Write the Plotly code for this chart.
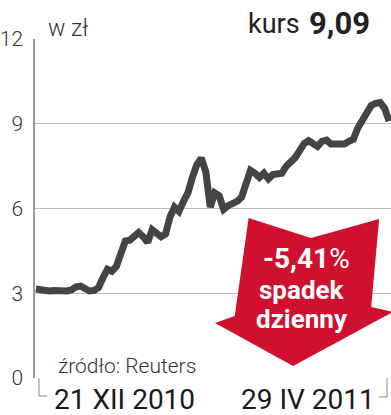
import plotly.graph_objects as go

# ---- data ----
prices = [3.15, 3.12, 3.10, 3.08, 3.10, 3.08, 3.08, 3.08, 3.12, 3.23,
          3.25, 3.13, 3.08, 3.10, 3.20, 3.55, 3.85, 3.78, 3.95, 4.40,
          4.85, 4.88, 5.00, 5.15, 5.00, 4.80, 5.25, 5.10, 5.00, 5.10,
          5.70, 6.05, 5.90, 6.25, 6.55, 7.10, 7.55, 7.78, 7.30, 6.05,
          6.55, 6.45, 5.97, 6.10, 6.15, 6.25, 6.40, 6.85, 7.35, 7.25,
          7.10, 7.25, 7.05, 7.20, 7.25, 7.25, 7.50, 7.62, 7.80, 8.05,
          8.30, 8.40, 8.30, 8.20, 8.38, 8.42, 8.28, 8.28, 8.30, 8.28,
          8.38, 8.45, 8.85, 9.15, 9.40, 9.65, 9.72, 9.75, 9.55, 9.09]
days = list(range(len(prices)))
y_ticks = [0, 3, 6, 9, 12]
start_label = "21 XII 2010"
end_label = "29 IV 2011"
unit_label = "w zł"
kurs_word = "kurs"
kurs_value = "9,09"
change_pct = "-5,41"
change_text = ["spadek", "dzienny"]
source = "źródło: Reuters"

W, H = 391, 415
L, R, T, B = 31, 0, 39, 37
PW, PH = W - L - R, H - T - B


def px(x):
    return (x - L) / PW


def py(y):
    return (H - B - y) / PH


RED = "#d0102f"
FONT = "Roboto"

fig = go.Figure()
fig.add_trace(go.Scatter(
    x=days, y=prices, mode="lines",
    line=dict(color="#444444", width=7),
    hoverinfo="skip", showlegend=False))

# red arrow
pts = [(247, 218), (310, 238), (379, 219), (371, 307), (393, 312),
       (292, 366), (213, 323), (233, 316)]
path = "M " + " L ".join(f"{px(a):.4f},{py(b):.4f}" for a, b in pts) + " Z"

shapes = [dict(type="path", path=path, xref="paper", yref="paper",
               fillcolor=RED, line=dict(width=0), layer="above")]
# bracket ticks at bottom
bc = "#999999"
shapes += [
    dict(type="line", xref="paper", yref="paper", x0=px(35), x1=px(35),
         y0=py(378), y1=py(396), line=dict(color=bc, width=1.2)),
    dict(type="line", xref="paper", yref="paper", x0=px(35), x1=px(43),
         y0=py(396), y1=py(396), line=dict(color=bc, width=1.2)),
    dict(type="line", xref="paper", yref="paper", x0=px(387), x1=px(387),
         y0=py(378), y1=py(397), line=dict(color=bc, width=1.2)),
    dict(type="line", xref="paper", yref="paper", x0=px(379), x1=px(387),
         y0=py(397), y1=py(397), line=dict(color=bc, width=1.2)),
]

annots = [
    dict(text=unit_label, x=px(42), y=py(28), xanchor="left", yanchor="middle",
         font=dict(family=FONT, size=23, color="#333333", weight=300)),
    dict(text=kurs_word, x=px(301), y=py(24), xanchor="right", yanchor="middle",
         font=dict(family=FONT, size=27, color="#222222")),
    dict(text=kurs_value, x=px(306), y=py(23), xanchor="left", yanchor="middle",
         font=dict(family=FONT, size=31, color="#222222", weight=700)),
    dict(text=f"<b>{change_pct}</b>%", x=px(306), y=py(258), xanchor="center",
         yanchor="middle", font=dict(family=FONT, size=28, color="white")),
    dict(text=f"<b>{change_text[0]}</b>", x=px(301), y=py(290), xanchor="center",
         yanchor="middle", font=dict(family=FONT, size=26, color="white")),
    dict(text=f"<b>{change_text[1]}</b>", x=px(301), y=py(319), xanchor="center",
         yanchor="middle", font=dict(family=FONT, size=26, color="white")),
    dict(text=source, x=px(52), y=py(366), xanchor="left", yanchor="middle",
         font=dict(family=FONT, size=21, color="#333333", weight=300)),
    dict(text=start_label, x=px(121), y=py(399), xanchor="center", yanchor="middle",
         font=dict(family=FONT, size=28, color="#1a1a1a")),
    dict(text=end_label, x=px(307), y=py(399), xanchor="center", yanchor="middle",
         font=dict(family=FONT, size=28, color="#1a1a1a")),
]
for a in annots:
    a.update(xref="paper", yref="paper", showarrow=False)

fig.update_layout(
    width=W, height=H,
    margin=dict(l=L, r=R, t=T, b=B, pad=0),
    paper_bgcolor="white", plot_bgcolor="white",
    shapes=shapes, annotations=annots,
    showlegend=False,
    xaxis=dict(range=[-0.2, (PW - 1) / 4.52], showgrid=False, zeroline=False,
               showticklabels=False, showline=False, fixedrange=True),
    yaxis=dict(range=[0, 12], tickvals=y_ticks, showgrid=True,
               gridcolor="#bbbbbb", gridwidth=1, zeroline=False,
               showline=True, linecolor="#999999", linewidth=1.5,
               ticks="", ticklabelstandoff=6,
               tickfont=dict(family=FONT, size=21, color="#333333", weight=300),
               fixedrange=True),
)

fig.write_html("out.html")
